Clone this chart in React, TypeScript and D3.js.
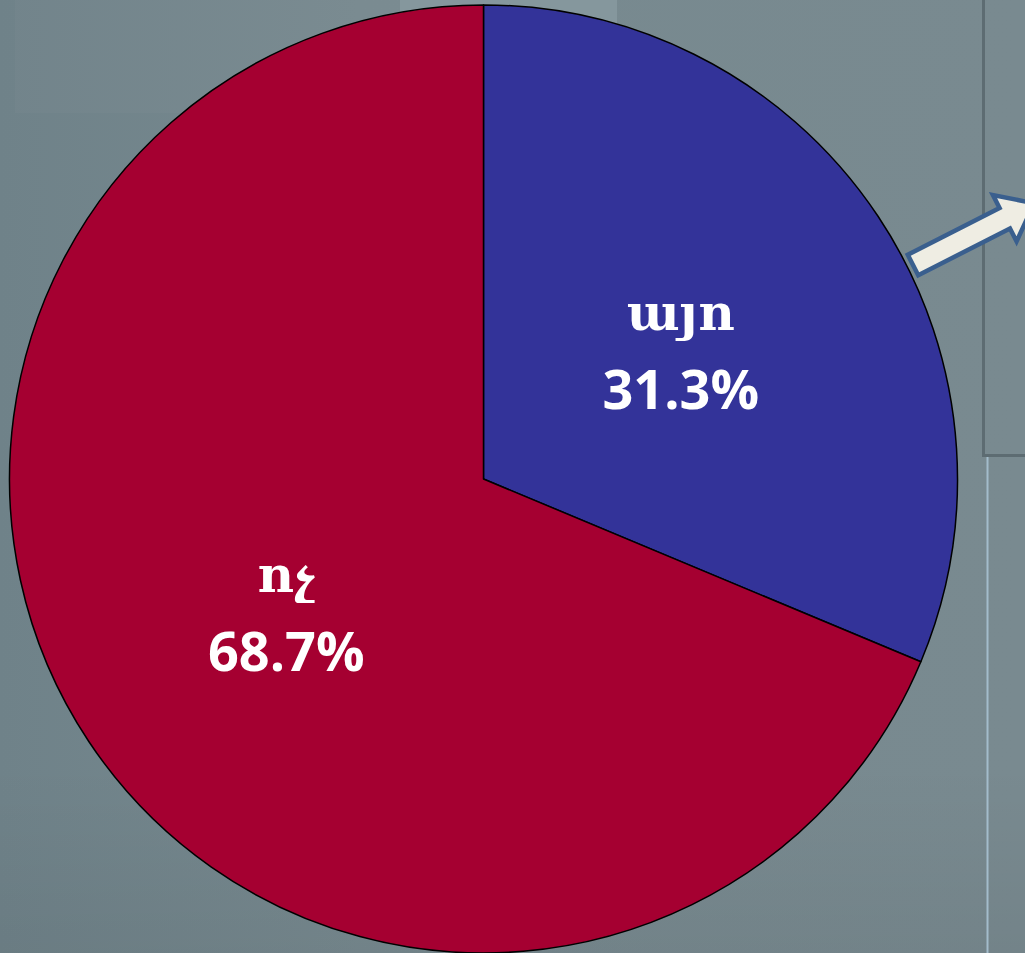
import React from "react";
import * as d3 from "d3";

const categories = ["այո", "ոչ"];
const values = [31.3, 68.7];
const colors = ["#333399", "#a50031"];

const W = 1025;
const H = 953;
const cx = 483.5;
const cy = 479;
const R = 474;

export default function App() {
  const pie = d3.pie<number>().sort(null).value((d) => d);
  const arcs = pie(values);
  const arc = d3.arc<d3.PieArcDatum<number>>().innerRadius(0).outerRadius(R);
  const labelArc = d3
    .arc<d3.PieArcDatum<number>>()
    .innerRadius(R * 0.5)
    .outerRadius(R * 0.5);

  const arrowPath =
    "M0,-11.5 L103,-11.5 L103,-26 L136,0 L103,26 L103,11.5 L0,11.5 Z";

  return (
    <svg
      width={W}
      height={H}
      style={{ position: "absolute", left: 0, top: 0, display: "block" }}
    >
      <defs>
        <linearGradient id="bg" x1="0" y1="0" x2="1" y2="0">
          <stop offset="0" stopColor="#6f8289" />
          <stop offset="0.35" stopColor="#77898f" />
          <stop offset="1" stopColor="#798a90" />
        </linearGradient>
        <linearGradient id="bgv" x1="0" y1="0" x2="0" y2="1">
          <stop offset="0" stopColor="#000" stopOpacity="0" />
          <stop offset="0.8" stopColor="#000" stopOpacity="0" />
          <stop offset="1" stopColor="#000" stopOpacity="0.05" />
        </linearGradient>
      </defs>
      <rect x={0} y={0} width={W} height={H} fill="url(#bg)" />
      <rect x={0} y={0} width={W} height={H} fill="url(#bgv)" />
      <rect x={15} y={0} width={602} height={113} fill="#fff" opacity={0.025} />
      <rect x={400} y={0} width={217} height={40} fill="#85979d" />

      <line x1={983.5} y1={0} x2={983.5} y2={456} stroke="#5d6c72" strokeWidth={3} />
      <line x1={982} y1={455.5} x2={W} y2={455.5} stroke="#5d6c72" strokeWidth={3} />
      <line x1={987.5} y1={457} x2={987.5} y2={H} stroke="#a3bccb" strokeWidth={2} />

      <g transform={`translate(${cx},${cy})`}>
        {arcs.map((a, i) => (
          <path
            key={categories[i]}
            d={arc(a) || ""}
            fill={colors[i]}
            stroke="#000"
            strokeWidth={1.5}
            strokeLinejoin="round"
          />
        ))}
        {arcs.map((a, i) => {
          const [lx, ly] = labelArc.centroid(a);
          return (
            <g key={"l" + i} transform={`translate(${lx},${ly})`} fill="#fff" textAnchor="middle">
              <text
                y={-18}
                fontFamily="'DejaVu Serif', serif"
                fontSize={50}
                fontWeight={700}
              >
                {categories[i]}
              </text>
              <text
                y={61}
                fontFamily="'Open Sans', sans-serif"
                fontSize={54}
                fontWeight={700}
              >
                {values[i].toFixed(1) + "%"}
              </text>
            </g>
          );
        })}
      </g>

      <path
        d={arrowPath}
        transform="translate(913,265) rotate(-27)"
        fill="#efede3"
        stroke="#3a5f8e"
        strokeWidth={4.5}
        strokeLinejoin="miter"
      />
    </svg>
  );
}
